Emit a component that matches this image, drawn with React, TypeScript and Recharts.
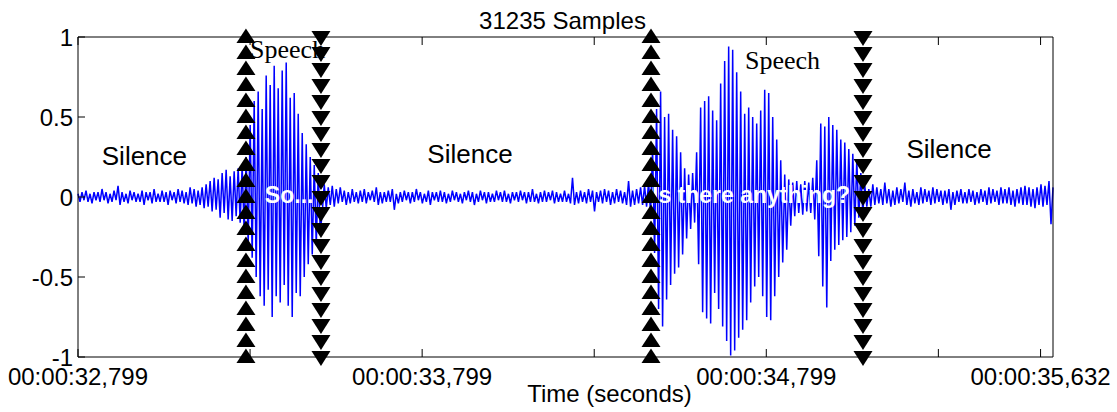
import { ComposedChart, Line, Scatter, XAxis, YAxis } from 'recharts';

// waveform amplitude, one value about every 2 px
const silenceA = [
  0.02, -0.03, 0.03, -0.02, 0.04, -0.03, 0.02, -0.04, 0.03, -0.02,
  0.03, -0.03, 0.05, -0.02, 0.03, -0.04, 0.02, -0.03, 0.04, -0.02,
  0.07, -0.05, 0.03, -0.03, 0.02, -0.04, 0.04, -0.02, 0.03, -0.03,
  0.02, -0.03, 0.04, -0.05, 0.03, -0.02, 0.03, -0.04, 0.05, -0.03,
  0.02, -0.03, 0.04, -0.03, 0.03, -0.05, 0.04, -0.02, 0.03, -0.04,
  0.05, -0.03, 0.04, -0.04, 0.03, -0.05, 0.06, -0.04, 0.05, -0.06,
  0.04, -0.05, 0.06,
];
const onsetA = [
  -0.07, 0.08, -0.06, 0.1, -0.09, 0.12, -0.08, 0.11, -0.13, 0.15,
  -0.1, 0.17, -0.14, 0.13, -0.15, 0.16, -0.12, 0.18, -0.16, 0.2,
  -0.22, 0.25, -0.3,
];
const speechA = [
  0.45, -0.38, 0.6, -0.5, 0.66, -0.62, 0.55, -0.68, 0.76, -0.58,
  0.7, -0.75, 0.82, -0.62, 0.68, -0.66, 0.79, -0.55, 0.84, -0.68,
  0.62, -0.75, 0.65, -0.6, 0.52, -0.62, 0.4, -0.5, 0.33, -0.42,
  0.25, -0.36, 0.2, -0.3, 0.15, -0.22,
];
const silenceB = [
  -0.1, 0.08, -0.07, 0.06, -0.05, 0.07, -0.06, 0.05, -0.04, 0.06,
  -0.03, 0.04, -0.05, 0.03, -0.04, 0.05, -0.03, 0.03, -0.04, 0.04,
  -0.03, 0.05, -0.04, 0.03, -0.02, 0.04, -0.03, 0.06, -0.05, 0.03,
  -0.04, 0.03, -0.03, 0.04, -0.03, 0.05, -0.08, 0.02, -0.04, 0.03,
  -0.03, 0.04, -0.02, 0.03, -0.04, 0.03, -0.03, 0.05, -0.02, 0.03,
  -0.04, 0.02, -0.03, 0.04, -0.05, 0.03, -0.02, 0.03, -0.03, 0.04,
  -0.03, 0.03, -0.04, 0.02, -0.03, 0.04, -0.02, 0.03, -0.03, 0.02,
  -0.04, 0.03, -0.02, 0.04, -0.03, 0.03, -0.05, 0.02, -0.03, 0.04,
  -0.02, 0.03, -0.04, 0.03, -0.03, 0.02, -0.03, 0.04, -0.02, 0.03,
  -0.03, 0.04, -0.03, 0.02, -0.04, 0.03, -0.02, 0.03, -0.03, 0.04,
  -0.02, 0.03, -0.04, 0.03, -0.03, 0.05, -0.03, 0.02, -0.04, 0.03,
  -0.03, 0.04, -0.03, 0.03, -0.02, 0.04, -0.04, 0.03, -0.03, 0.02,
  -0.03, 0.04, -0.03, 0.02, -0.04, 0.12, -0.05, 0.03, -0.04, 0.04,
  -0.03, 0.03, -0.04, 0.05, -0.03, 0.04, -0.09, 0.03, -0.03, 0.04,
  -0.04, 0.05, -0.03, 0.04, -0.05, 0.03, -0.04, 0.05, -0.03, 0.04,
  -0.04, 0.03, -0.05, 0.1, -0.06, 0.04, -0.05, 0.05, -0.04, 0.06,
  -0.05, 0.07, -0.06, 0.09, -0.1,
];
const speechB = [
  0.3, -0.35, 0.55, -0.7, 0.66, -0.81, 0.5, -0.64, 0.52, -0.55,
  0.42, -0.48, 0.38, -0.44, 0.28, -0.36, 0.18, -0.26, 0.14, -0.2,
  0.15, -0.16, 0.28, -0.42, 0.56, -0.72, 0.6, -0.76, 0.63, -0.79,
  0.54, -0.6, 0.48, -0.7, 0.71, -0.81, 0.85, -0.9, 0.94, -0.99,
  0.92, -0.96, 0.78, -0.88, 0.66, -0.83, 0.52, -0.77, 0.56, -0.66,
  0.5, -0.56, 0.46, -0.5, 0.54, -0.62, 0.67, -0.75, 0.65, -0.77,
  0.5, -0.62, 0.36, -0.5, 0.23, -0.41, 0.14, -0.33, 0.11, -0.18,
  0.09, -0.12, 0.1, -0.1, 0.08, -0.11, 0.1, -0.09, 0.09, -0.1,
  0.12, -0.14, 0.23, -0.37, 0.46, -0.56, 0.44, -0.69, 0.5, -0.4,
  0.45, -0.33, 0.42, -0.3, 0.36, -0.27, 0.34, -0.25, 0.3, -0.22,
  0.27, -0.18, 0.23, -0.13, 0.15, -0.1,
];
const silenceC = [
  0.07, -0.06, 0.05, -0.06, 0.08, -0.05, 0.06, -0.04, 0.05, -0.05,
  0.09, -0.04, 0.05, -0.06, 0.04, -0.05, 0.06, -0.04, 0.05, -0.03,
  0.09, -0.05, 0.04, -0.06, 0.05, -0.04, 0.03, -0.05, 0.06, -0.04,
  0.05, -0.03, 0.04, -0.05, 0.06, -0.04, 0.05, -0.03, 0.04, -0.05,
  0.04, -0.04, 0.05, -0.08, 0.03, -0.05, 0.04, -0.03, 0.05, -0.04,
  0.03, -0.04, 0.05, -0.03, 0.04, -0.05, 0.03, -0.04, 0.05, -0.03,
  0.04, -0.05, 0.06, -0.04, 0.05, -0.03, 0.04, -0.05, 0.06, -0.04,
  0.05, -0.04, 0.06, -0.05, 0.04, -0.06, 0.05, -0.04, 0.06, -0.05,
  0.07, -0.05, 0.06, -0.06, 0.05, -0.07, 0.06, -0.05, 0.08, -0.06,
  0.07, -0.05, 0.1, -0.17, 0.06,
];

const DURATION = 2.8331; // seconds covered by the 31235 samples

const xTicks = [0, 0.5, 1, 1.5, 2, 2.5, 2.797];
const xTickLabels: Record<string, string> = {
  '0': '00:00:32,799',
  '1': '00:00:33,799',
  '2': '00:00:34,799',
  '2.797': '00:00:35,632',
};
const yTicks = [-1, -0.5, 0, 0.5, 1];

// boundary marker columns
const markerLevels = [
  -1, -0.9, -0.8, -0.7, -0.6, -0.5, -0.4, -0.3, -0.2, -0.1, 0,
  0.1, 0.2, 0.3, 0.4, 0.5, 0.6, 0.7, 0.8, 0.9, 1,
];
const speechStarts = [0.488, 1.665];
const speechEnds = [0.706, 2.281];

const silenceLabels = [
  { t: 0.193, v: 0.2 },
  { t: 1.139, v: 0.2125 },
  { t: 2.531, v: 0.244 },
];
const speechLabels = [
  { t: 0.5, v: 0.87 },
  { t: 1.938, v: 0.8 },
];
const transcriptLabels = [
  { t: 0.543, v: -0.0375, text: 'So...' },
  { t: 1.668, v: -0.0375, text: 'Is there anything?' },
];

const samples = [...silenceA, ...onsetA, ...speechA, ...silenceB, ...speechB, ...silenceC];
const waveData = samples.map((v, i) => ({ t: (i * DURATION) / (samples.length - 1), v }));
const startMarks = speechStarts.flatMap((t) => markerLevels.map((v) => ({ t, v })));
const endMarks = speechEnds.flatMap((t) => markerLevels.map((v) => ({ t, v })));

const SANS = 'Liberation Sans, Arial, Helvetica, sans-serif';
const SERIF = 'Liberation Serif, Times New Roman, serif';

function BottomTick({ x, y, payload }: any) {
  const label = xTickLabels[String(payload.value)];
  return (
    <g>
      <line x1={x} y1={y} x2={x} y2={y - 8} stroke="#000" />
      {label && (
        <text x={x} y={y + 28} textAnchor="middle" fontFamily={SANS} fontSize={24} fill="#000">
          {label}
        </text>
      )}
    </g>
  );
}

function TopTick({ x, y }: any) {
  return <line x1={x} y1={y} x2={x} y2={y + 8} stroke="#000" />;
}

function LeftTick({ x, y, payload }: any) {
  return (
    <g>
      <line x1={x} y1={y} x2={x + 7} y2={y} stroke="#000" />
      <text x={x - 5} y={y} dy="0.36em" textAnchor="end" fontFamily={SANS} fontSize={24} fill="#000">
        {payload.value}
      </text>
    </g>
  );
}

function RightTick({ x, y }: any) {
  return <line x1={x} y1={y} x2={x - 7} y2={y} stroke="#000" />;
}

function PlotTitle({ viewBox }: any) {
  if (!viewBox) return null;
  return (
    <text x={viewBox.x + viewBox.width / 2 - 3} y={viewBox.y - 7} textAnchor="middle" fontFamily={SANS} fontSize={24} fill="#000">
      31235 Samples
    </text>
  );
}

function TimeLabel({ viewBox }: any) {
  if (!viewBox) return null;
  return (
    <text x={viewBox.x + viewBox.width / 2 + 44} y={viewBox.y + 45} textAnchor="middle" fontFamily={SANS} fontSize={24} fill="#000">
      Time (seconds)
    </text>
  );
}

const UpMark = ({ cx, cy }: any) => (
  <path d={`M${cx},${cy - 8.5} L${cx + 9.5},${cy + 6} L${cx - 9.5},${cy + 6} Z`} fill="#000" />
);
const DownMark = ({ cx, cy }: any) => (
  <path d={`M${cx},${cy + 9} L${cx + 9.5},${cy - 6} L${cx - 9.5},${cy - 6} Z`} fill="#000" />
);
const SilenceText = ({ cx, cy }: any) => (
  <text x={cx} y={cy} textAnchor="middle" fontFamily={SANS} fontSize={26} fill="#000">
    Silence
  </text>
);
const SpeechText = ({ cx, cy }: any) => (
  <text x={cx} y={cy} fontFamily={SERIF} fontSize={26} fill="#000">
    Speech
  </text>
);
const TranscriptText = ({ cx, cy, payload }: any) => (
  <text x={cx} y={cy} fontFamily={SANS} fontWeight="bold" fontSize={23} fill="#fff">
    {payload.text}
  </text>
);

export default function App() {
  return (
    <div style={{ position: 'absolute', left: 0, top: 0, width: 1117, height: 412, background: '#fff' }}>
      <ComposedChart width={1117} height={412} data={waveData} margin={{ top: 36, right: 63, bottom: 25, left: 0 }}>
        <XAxis
          dataKey="t"
          type="number"
          domain={[0, DURATION]}
          ticks={xTicks}
          interval={0}
          tickLine={false}
          tickSize={0}
          tickMargin={0}
          height={30}
          axisLine={{ stroke: '#000' }}
          tick={<BottomTick />}
          label={<TimeLabel />}
        />
        <XAxis
          xAxisId="top"
          orientation="top"
          dataKey="t"
          type="number"
          domain={[0, DURATION]}
          ticks={xTicks}
          interval={0}
          tickLine={false}
          tickSize={0}
          tickMargin={0}
          height={1}
          axisLine={{ stroke: '#000' }}
          tick={<TopTick />}
          label={<PlotTitle />}
        />
        <YAxis
          type="number"
          domain={[-1, 1]}
          ticks={yTicks}
          interval={0}
          tickLine={false}
          tickSize={0}
          tickMargin={0}
          width={78}
          axisLine={{ stroke: '#000' }}
          tick={<LeftTick />}
        />
        <YAxis
          yAxisId="right"
          orientation="right"
          type="number"
          domain={[-1, 1]}
          ticks={yTicks}
          interval={0}
          tickLine={false}
          tickSize={0}
          tickMargin={0}
          width={1}
          axisLine={{ stroke: '#000' }}
          tick={<RightTick />}
        />
        <Line dataKey="v" stroke="#0000ff" strokeWidth={1.5} dot={false} isAnimationActive={false} />
        <Scatter data={silenceLabels} dataKey="v" shape={SilenceText} isAnimationActive={false} />
        <Scatter data={speechLabels} dataKey="v" shape={SpeechText} isAnimationActive={false} />
        <Scatter data={transcriptLabels} dataKey="v" shape={TranscriptText} isAnimationActive={false} />
        <Scatter data={startMarks} dataKey="v" shape={UpMark} isAnimationActive={false} />
        <Scatter data={endMarks} dataKey="v" shape={DownMark} isAnimationActive={false} />
      </ComposedChart>
    </div>
  );
}
